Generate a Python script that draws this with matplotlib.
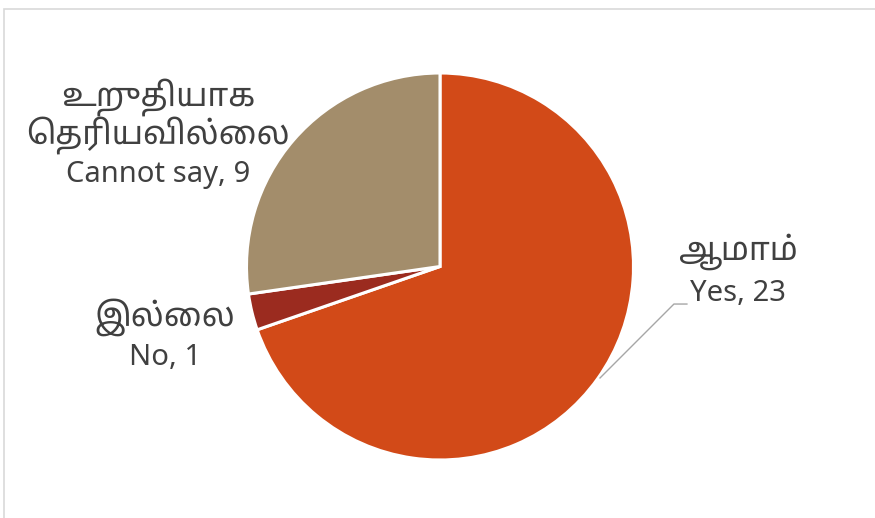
import matplotlib
matplotlib.use('Agg')
import matplotlib.pyplot as plt
from matplotlib.patches import Rectangle

# Data
labels_ta = ['ஆமாம்', 'இல்லை', 'உறுதியாக\nதெரியவில்லை']
labels_en = ['Yes', 'No', 'Cannot say']
values = [23, 1, 9]
colors = ['#D24A18', '#9B2B1F', '#A38D6B']


def visual_order(s):
    # matplotlib does no complex shaping, so the left-side vowel signs
    # (ெ ே ை) are moved in front of their consonant
    out = list(s)
    for i in range(1, len(out)):
        if out[i] in '\u0BC6\u0BC7\u0BC8':
            out[i - 1], out[i] = out[i], out[i - 1]
    return ''.join(out)


plt.rcParams['font.family'] = ['Noto Sans', 'Noto Sans Tamil', 'DejaVu Sans']

W, H = 875, 518
cx, cy, r = 440, 266.5, 193.5

fig = plt.figure(figsize=(W / 100, H / 100), dpi=100)
ax = fig.add_axes([0, 0, 1, 1])

ax.pie(values, colors=colors, startangle=90, counterclock=False, radius=1,
       wedgeprops=dict(edgecolor='white', linewidth=2.2))
ax.set_xlim(-cx / r, (W - cx) / r)
ax.set_ylim(-(H - cy) / r, cy / r)
ax.set_aspect('equal')
ax.axis('off')

# chart frame
fig.patches.append(Rectangle((3.5 / W, -0.1), 1.2, 1 - 8.5 / H + 0.1,
                             transform=fig.transFigure, fill=False,
                             edgecolor='#D9D9D9', linewidth=1.2))

txt_color = '#404040'
fs_en = 21
fs_ta = 23.5
# x of the label, y of each Tamil line, y of the English line
label_x = [1.540, -1.421, -1.457]
ta_y = [[0.075], [-0.261], [0.876, 0.680]]
en_y = [-0.137, -0.468, 0.478]

for ta, en, v, x, tys, ey in zip(labels_ta, labels_en, values, label_x, ta_y, en_y):
    for line, ty in zip(ta.split('\n'), tys):
        ax.text(x, ty, visual_order(line), ha='center', va='center',
                fontsize=fs_ta, color=txt_color)
    ax.text(x, ey, f'{en}, {v}', ha='center', va='center',
            fontsize=fs_en, color=txt_color)

# leader line for the Yes label
ax.plot([0.827, 1.209, 1.276], [-0.576, -0.194, -0.194],
        color='#A6A6A6', linewidth=1.0)

fig.savefig('out.png', dpi=100, facecolor='white')
